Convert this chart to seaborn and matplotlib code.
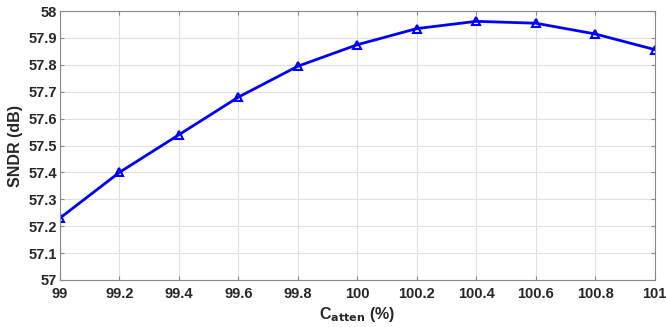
import matplotlib
matplotlib.use("Agg")
import matplotlib.pyplot as plt
import seaborn as sns
import pandas as pd

c_atten = [99.0, 99.2, 99.4, 99.6, 99.8, 100.0, 100.2, 100.4, 100.6, 100.8, 101.0]
sndr = [57.23, 57.40, 57.54, 57.68, 57.795, 57.875, 57.935, 57.962, 57.955, 57.915, 57.857]
xticks = [99, 99.2, 99.4, 99.6, 99.8, 100, 100.2, 100.4, 100.6, 100.8, 101]
xticklabels = ["99", "99.2", "99.4", "99.6", "99.8", "100", "100.2", "100.4", "100.6", "100.8", "101"]
yticks = [57, 57.1, 57.2, 57.3, 57.4, 57.5, 57.6, 57.7, 57.8, 57.9, 58]
yticklabels = ["57", "57.1", "57.2", "57.3", "57.4", "57.5", "57.6", "57.7", "57.8", "57.9", "58"]

sns.set_style("white")
plt.rcParams['font.family'] = ['Liberation Sans', 'DejaVu Sans']
plt.rcParams['font.weight'] = 'bold'

df = pd.DataFrame({"c": c_atten, "s": sndr})
fig = plt.figure(figsize=(6.66, 3.27), dpi=100)
ax = fig.add_axes([0.090, 0.144, 0.893, 0.822])
sns.lineplot(data=df, x="c", y="s", ax=ax, color="#0000ff", linewidth=2,
             marker="^", markersize=6, markerfacecolor="none",
             markeredgecolor="#0000ff", markeredgewidth=1.5)
ax.set_xlim(99, 101)
ax.set_ylim(57, 58)
ax.set_xticks(xticks)
ax.set_xticklabels(xticklabels, fontsize=10.5, fontweight='bold')
ax.set_yticks(yticks)
ax.set_yticklabels(yticklabels, fontsize=10.5, fontweight='bold')
ax.grid(True, color="#e0e0e0", linewidth=0.8)
ax.tick_params(direction="in", length=3, color="#888888",
               top=True, right=True, bottom=True, left=True)
ax.tick_params(axis="x", pad=5)
ax.tick_params(axis="y", pad=2)
for s in ax.spines.values():
    s.set_color("#888888")
    s.set_linewidth(0.8)
ax.set_xlabel(r"C$_{\mathbf{atten}}$ (%)", fontsize=11.5, fontweight='bold', labelpad=3)
ax.set_ylabel("SNDR (dB)", fontsize=11.5, fontweight='bold', labelpad=4)
fig.savefig("out.png", dpi=100)
